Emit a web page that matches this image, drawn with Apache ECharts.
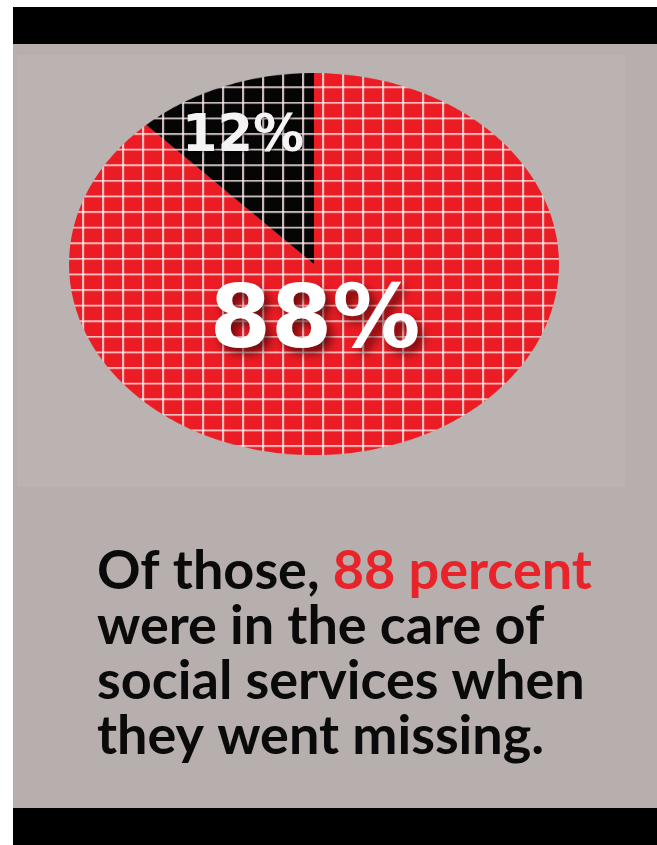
<!DOCTYPE html>
<html>
<head>
<meta charset="utf-8">
<script src="https://cdn.jsdelivr.net/npm/echarts@6/dist/echarts.min.js"></script>
<style>
  html, body { margin: 0; padding: 0; background: #ffffff; }
  #bg { position: absolute; left: 0; top: 0; width: 657px; height: 845px; }
  #pie { position: absolute; left: 69px; top: 73px; width: 490px; height: 490px;
         transform: scaleY(0.78); transform-origin: 0 0; }
  #labels { position: absolute; left: 0; top: 0; width: 657px; height: 845px; pointer-events: none; }
</style>
</head>
<body>
<div id="bg"></div>
<div id="pie"></div>
<div id="labels"></div>
<script>
// ---- data ----
const categories = ['In care of social services', 'Not in care'];
const values = [88, 12];
const sliceColors = ['#ec1c24', '#050505'];
const captionLines = ['Of those, ', '88 percent', 'were in the care of', 'social services when', 'they went missing.'];

// ---- grid pattern ----
function makePattern(fill) {
  const c = document.createElement('canvas');
  c.width = 20; c.height = 20;
  const g = c.getContext('2d');
  g.fillStyle = fill;
  g.fillRect(0, 0, 20, 20);
  g.fillStyle = 'rgba(255,236,236,0.78)';
  g.fillRect(13, 0, 2.2, 20);
  g.fillRect(0, 17, 20, 2.4);
  return c;
}

// ---- background chart ----
const bg = echarts.init(document.getElementById('bg'), null, { renderer: 'canvas' });
bg.setOption({
  backgroundColor: '#ffffff',
  graphic: [
    { type: 'rect', shape: { x: 13, y: 7, width: 644, height: 801 }, style: { fill: '#b7afad' } },
    { type: 'rect', shape: { x: 17, y: 55, width: 608, height: 432 }, style: { fill: '#bbb3b1' } },
    { type: 'rect', shape: { x: 13, y: 7, width: 644, height: 37 }, style: { fill: '#000000' } },
    { type: 'rect', shape: { x: 13, y: 808, width: 644, height: 37 }, style: { fill: '#000000' } },
    {
      type: 'text', left: 97, top: 544,
      style: {
        text: captionLines[0] + '{r|' + captionLines[1] + '}\n' + captionLines[2] + '\n' + captionLines[3] + '\n' + captionLines[4],
        fontFamily: 'Lato', fontWeight: 'bold', fontSize: 54, lineHeight: 55,
        fill: '#0a0a0a',
        rich: { r: { fill: '#e8232a', fontFamily: 'Lato', fontWeight: 'bold', fontSize: 54, lineHeight: 55 } }
      }
    }
  ]
});

// ---- pie chart ----
const pie = echarts.init(document.getElementById('pie'), null, { renderer: 'canvas' });
pie.setOption({
  animation: false,
  series: [{
    type: 'pie',
    center: [245, 245],
    radius: [0, 245],
    startAngle: 90,
    clockwise: true,
    silent: true,
    label: { show: false },
    labelLine: { show: false },
    itemStyle: { borderWidth: 0 },
    data: categories.map((name, i) => ({
      name: name,
      value: values[i],
      itemStyle: { color: { image: makePattern(sliceColors[i]), repeat: 'repeat' } }
    }))
  }]
});

// ---- value labels ----
const lab = echarts.init(document.getElementById('labels'), null, { renderer: 'canvas' });
lab.setOption({
  backgroundColor: 'transparent',
  graphic: [
    {
      type: 'text', x: 243, y: 138,
      style: {
        text: values[1] + '%', fontFamily: 'DejaVu Sans', fontWeight: 'bold', fontSize: 51,
        fill: '#f4f4f4', align: 'center', verticalAlign: 'middle',
        textShadowColor: 'rgba(0,0,0,0.5)', textShadowBlur: 3, textShadowOffsetX: 1, textShadowOffsetY: 1
      }
    },
    {
      type: 'text', x: 315, y: 324,
      style: {
        text: values[0] + '%', fontFamily: 'DejaVu Sans', fontWeight: 'bold', fontSize: 88,
        fill: '#ffffff', align: 'center', verticalAlign: 'middle',
        textShadowColor: 'rgba(40,0,0,0.65)', textShadowBlur: 10, textShadowOffsetX: 5, textShadowOffsetY: 6
      }
    }
  ]
});
</script>
</body>
</html>
